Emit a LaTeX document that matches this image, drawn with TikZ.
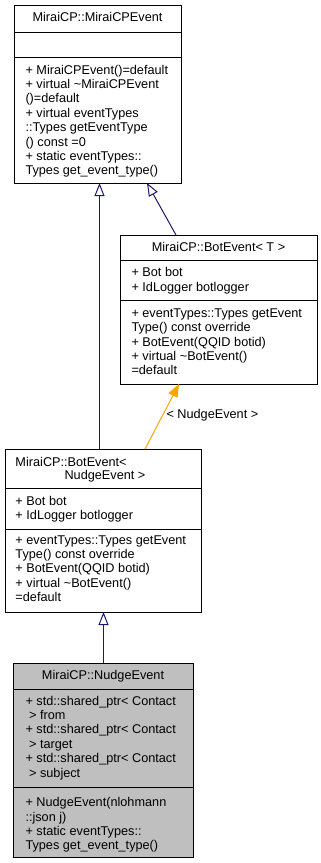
\documentclass[tikz,border=0pt]{standalone}
\usepackage{fontspec}
\setmainfont{Liberation Sans}
\usetikzlibrary{arrows.meta,calc}

\definecolor{edgeblue}{HTML}{191970}
\definecolor{tmplorange}{HTML}{FFA500}
\definecolor{classgray}{HTML}{BFBFBF}

% one text line per entry, baselines 14.4 apart
\newcommand\umllines[4]{%
  \foreach \ln [count=\k from 0] in {#4}{%
    \node[umltext, anchor=base west] (#1-\k) at (#2,{#3+14.4*\k}) {\ln};
  }}

\begin{document}
\begin{tikzpicture}[x=1pt, y=-1pt,
  umltext/.style={inner sep=0pt, outer sep=0pt, font=\fontsize{12.7}{14.4}\selectfont},
  classbox/.style={draw=black, line width=1pt, inner sep=0pt, outer sep=0pt, anchor=north west},
  sepline/.style={draw=black, line width=1pt},
  inherit/.style={draw=edgeblue, line width=1pt, -{Triangle[open, length=13pt, width=10pt]}},
  instance/.style={draw=tmplorange, line width=1pt, -{Triangle[length=13pt, width=10pt]}}]

\useasboundingbox (0,0) rectangle (321,863);

% MiraiCP::MiraiCPEvent
\node[classbox, fill=white, minimum width=167pt, minimum height=178pt] (b1) at (14,5) {};
\draw[sepline] ($(b1.north west)+(0,27)$) -- ($(b1.north east)+(0,27)$);
\draw[sepline] ($(b1.north west)+(0,52)$) -- ($(b1.north east)+(0,52)$);
\node[umltext, anchor=base] (b1-title) at (97.5,21.3) {MiraiCP::MiraiCPEvent};
\umllines{b1m}{25.5}{74}{%
  + MiraiCPEvent()=default,
  + virtual \textasciitilde MiraiCPEvent,
  ()=default,
  + virtual eventTypes,
  ::Types getEventType,
  () const =0,
  + static eventTypes::,
  Types get\_event\_type()}

% MiraiCP::BotEvent< T >
\node[classbox, fill=white, minimum width=197pt, minimum height=149pt] (b2) at (120,235) {};
\draw[sepline] ($(b2.north west)+(0,25)$) -- ($(b2.north east)+(0,25)$);
\draw[sepline] ($(b2.north west)+(0,65)$) -- ($(b2.north east)+(0,65)$);
\node[umltext, anchor=base] (b2-title) at (218.5,251) {MiraiCP::BotEvent< T >};
\umllines{b2a}{131.5}{276.7}{+ Bot bot, + IdLogger botlogger}
\umllines{b2m}{131.5}{317.3}{%
  + eventTypes::Types getEvent,
  Type() const override,
  + BotEvent(QQID botid),
  + virtual \textasciitilde BotEvent(),
  =default}

% MiraiCP::BotEvent< NudgeEvent >
\node[classbox, fill=white, minimum width=196pt, minimum height=163pt] (b3) at (5,449) {};
\draw[sepline] ($(b3.north west)+(0,39)$) -- ($(b3.north east)+(0,39)$);
\draw[sepline] ($(b3.north west)+(0,80)$) -- ($(b3.north east)+(0,80)$);
\node[umltext, anchor=base west] (b3-title1) at (15.5,466) {MiraiCP::BotEvent<};
\node[umltext, anchor=base] (b3-title2) at (105,479.5) {NudgeEvent >};
\umllines{b3a}{15.5}{505.3}{+ Bot bot, + IdLogger botlogger}
\umllines{b3m}{15.5}{544}{%
  + eventTypes::Types getEvent,
  Type() const override,
  + BotEvent(QQID botid),
  + virtual \textasciitilde BotEvent(),
  =default}

% MiraiCP::NudgeEvent
\node[classbox, fill=classgray, minimum width=180pt, minimum height=194pt] (b4) at (13,663) {};
\draw[sepline] ($(b4.north west)+(0,26)$) -- ($(b4.north east)+(0,26)$);
\draw[sepline] ($(b4.north west)+(0,124)$) -- ($(b4.north east)+(0,124)$);
\node[umltext, anchor=base] (b4-title) at (103,679) {MiraiCP::NudgeEvent};
\umllines{b4a}{25.5}{705}{%
  + std::shared\_ptr< Contact,
  {\hspace{3.6pt}> from},
  + std::shared\_ptr< Contact,
  {\hspace{3.6pt}> target},
  + std::shared\_ptr< Contact,
  {\hspace{3.6pt}> subject}}
\umllines{b4m}{25.5}{806.7}{%
  + NudgeEvent(nlohmann,
  ::json j),
  + static eventTypes::,
  Types get\_event\_type()}

% inheritance and template instantiation
\draw[inherit] ($(b2.north west)+(56,0)$) -- ($(b1.south west)+(133,0)$);
\draw[inherit] ($(b3.north west)+(94.5,0)$) -- ($(b1.south west)+(85.5,0)$);
\draw[instance] ($(b3.north west)+(140,0)$) -- ($(b2.south west)+(59,0)$);
\node[umltext, anchor=base west] (inst-label) at (166.5,418) {< NudgeEvent >};
\draw[inherit] ($(b4.north west)+(90.5,0)$) -- ($(b3.south west)+(98.5,0)$);

\end{tikzpicture}
\end{document}
